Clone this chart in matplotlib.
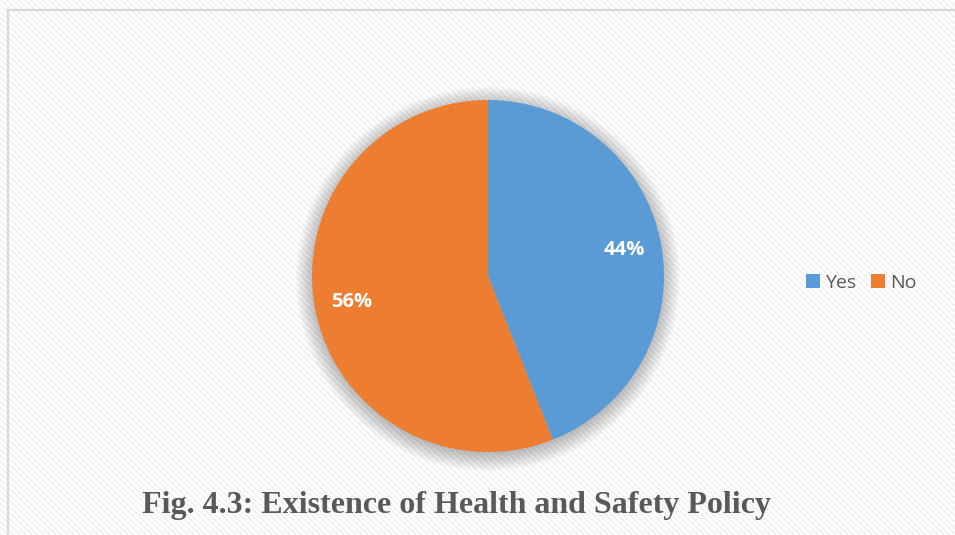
import matplotlib
matplotlib.use("Agg")
import matplotlib.pyplot as plt
import numpy as np
from matplotlib.patches import Circle
from matplotlib.collections import LineCollection

labels = ["Yes", "No"]
values = [44, 56]
colors = ["#5b9bd5", "#ed7d31"]
title = "Fig. 4.3: Existence of Health and Safety Policy"

W, H = 955, 535
fig = plt.figure(figsize=(W / 100, H / 100), dpi=100)
fig.patch.set_facecolor("white")
ax = fig.add_axes([0, 0, 1, 1])
ax.set_xlim(0, W)
ax.set_ylim(0, H)
ax.axis("off")

# subtle diagonal background texture
offs = np.arange(-H - 20, W + 20, 6.0)
segs = [[(o, H + 10), (o + H + 20, -10)] for o in offs]
ax.add_collection(LineCollection(segs, colors="#f2f2f2", linewidths=1.5,
                                 zorder=0))

# frame (top and left edges only visible)
ax.plot([8, 8, W + 50], [-50, H - 10, H - 10], color="#d9d9d9",
        linewidth=1.6, zorder=1, solid_joinstyle="miter")

cx, cy, r = 488, H - 276, 176
# soft shadow
for i in range(14):
    ax.add_patch(Circle((cx, cy - 3), r + 16 - i * 1.4, facecolor="#000000",
                        alpha=0.018, linewidth=0, zorder=2))

wedges, texts, autotexts = ax.pie(
    values, colors=colors, startangle=90, counterclock=False,
    center=(cx, cy), radius=r, autopct="%d%%", pctdistance=0.79,
    wedgeprops=dict(linewidth=0, zorder=3),
    textprops=dict(color="white", fontsize=14.5, fontweight="bold",
                   family="Open Sans"),
    frame=True)
for t in autotexts:
    t.set_zorder(5)
ax.set_xlim(0, W)
ax.set_ylim(0, H)
ax.set_aspect("auto")
ax.axis("off")

leg = ax.legend(wedges, labels, ncol=2, loc="center left",
                bbox_to_anchor=(806 / W, 1 - 283 / H),
                frameon=False, prop=dict(family="Open Sans", size=14),
                handlelength=0.7, handleheight=0.7, handletextpad=0.3,
                columnspacing=0.75, borderpad=0, borderaxespad=0)
for t in leg.get_texts():
    t.set_color("#595959")

fig.text(456.5 / W, 1 - 505 / H, title, ha="center", va="center",
         fontsize=23, fontweight="bold", family="Liberation Serif",
         color="#595959")

fig.savefig("out.png", dpi=100)
